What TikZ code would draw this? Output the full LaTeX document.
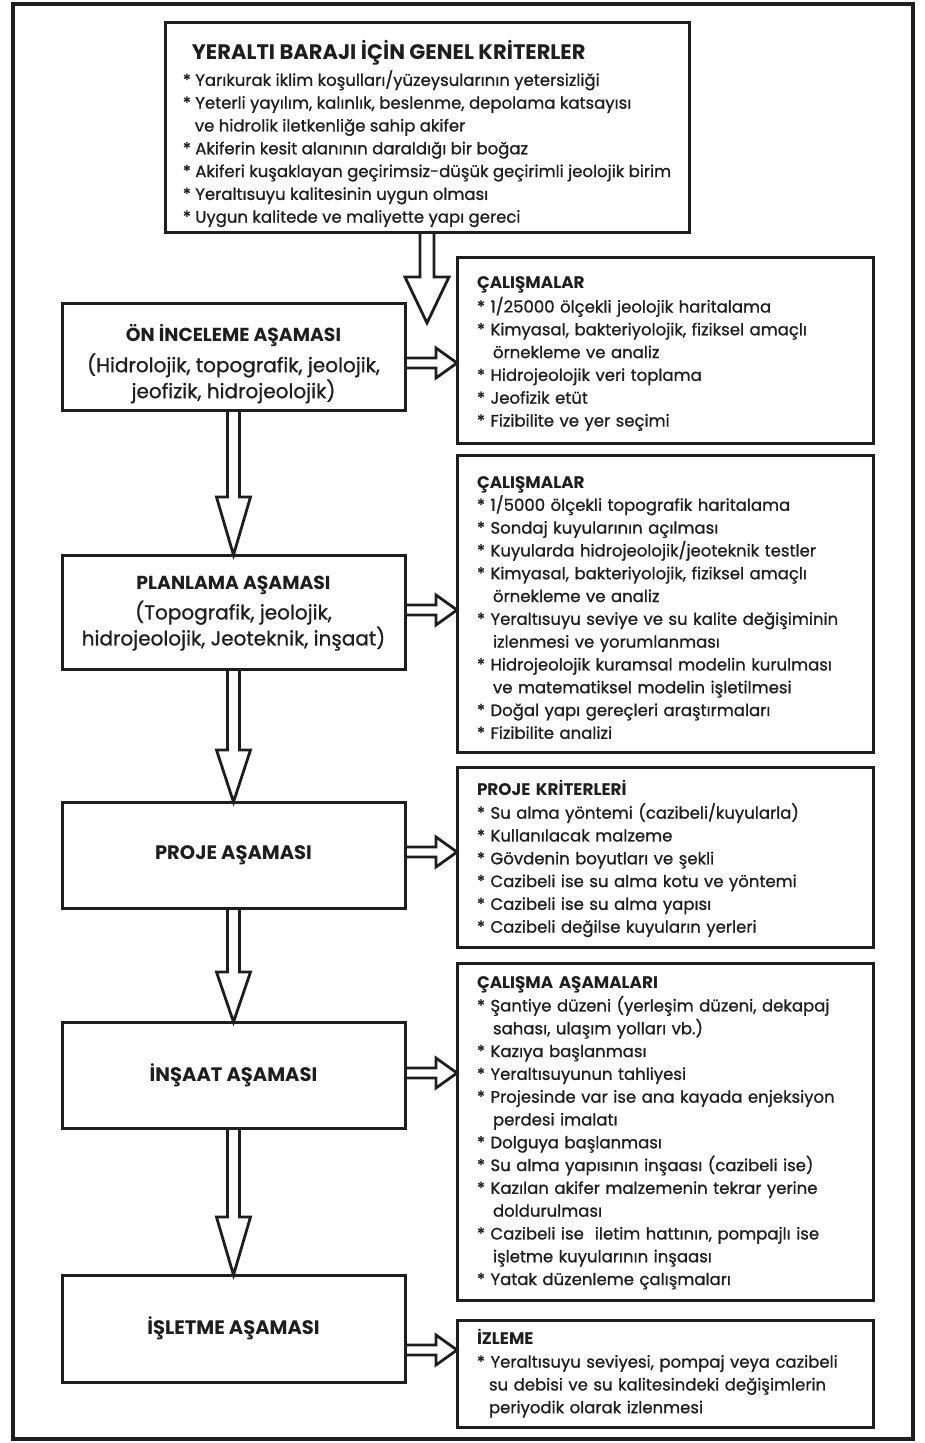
\documentclass[tikz,border=0pt]{standalone}
\usepackage{fontspec}
\setmainfont{Poppins}[UprightFeatures={FakeBold=1.0}]
\usetikzlibrary{calc}
\definecolor{ink}{HTML}{1E1E1E}
\newcommand\body{\fontsize{16.5}{22.8}\selectfont}
\newcommand\ttl{\fontsize{21}{24}\selectfont\bfseries}
\newcommand\ltl{\fontsize{19.5}{26}\selectfont\bfseries}
\newcommand\ltlsm{\fontsize{18.8}{26}\selectfont\bfseries}
\newcommand\lsub{\fontsize{20}{26}\selectfont}
\newcommand\rtl{\fontsize{16.8}{22.8}\selectfont\bfseries}
\newcommand\T[1]{\rule{0pt}{#1pt}}
\newcommand\itm{*\ }
\newcommand\cnt{\hspace*{16pt}}
\newcommand\cns{\hspace*{12pt}}
\tikzset{
  box/.style={draw=ink, line width=3pt, outer sep=0pt, anchor=north west, inner ysep=0pt, text=ink},
  leftbox/.style={box, minimum width=343pt, align=center, font=\lsub},
  rightbox/.style={box, text width=376pt, inner xsep=20pt, align=left, font=\body},
  hollow/.style={draw=ink, line width=2.8pt, line join=miter},
}
% #1 start anchor, #2 target (tip level), #3 shaft half, #4 head half, #5 head length
\newcommand\DownArr[5]{%
  \coordinate (dtip) at (#1 |- #2);
  \draw[hollow] ($(#1)+(-#3,0)$) -- ($(dtip)+(-#3,-#5)$) -- ($(dtip)+(-#4,-#5)$) -- (dtip)
    -- ($(dtip)+(#4,-#5)$) -- ($(dtip)+(#3,-#5)$) -- ($(#1)+(#3,0)$);}
% #1 left node, #2 right node, #3 y
\newcommand\RightArr[3]{%
  \coordinate (rs) at (#1.east |- 0,#3);
  \coordinate (rt) at (#2.west |- 0,#3);
  \draw[hollow] ($(rs)+(0,-5)$) -- ($(rt)+(-21,-5)$) -- ($(rt)+(-21,-15)$) -- (rt)
    -- ($(rt)+(-21,15)$) -- ($(rt)+(-21,5)$) -- ($(rs)+(0,5)$);}
\begin{document}
\begin{tikzpicture}[x=1pt,y=-1pt]
\useasboundingbox (0,0) rectangle (924,1443);
\draw[ink, line width=4pt] (13,4) rectangle (913,1439);

\node[box, minimum width=524pt, minimum height=210pt, align=left, font=\body] (top) at (165,22)
{\hspace*{9pt}{\ttl\T{33}YERALTI BARAJI İÇİN GENEL KRİTERLER}\\[3.2pt]
\itm Yarıkurak iklim koşulları/yüzeysularının yetersizliği\\
\itm Yeterli yayılım, kalınlık, beslenme, depolama katsayısı\\
\cns ve hidrolik iletkenliğe sahip akifer\\
\itm Akiferin kesit alanının daraldığı bir boğaz\\
\itm Akiferi kuşaklayan geçirimsiz-düşük geçirimli jeolojik birim\\
\itm Yeraltısuyu kalitesinin uygun olması\\
\itm Uygun kalitede ve maliyette yapı gereci};

\node[leftbox, minimum height=107pt] (on) at (62,303)
{{\ltlsm\T{31.5}ÖN İNCELEME AŞAMASI}\\[5pt](Hidrolojik, topografik, jeolojik,\\jeofizik, hidrojeolojik)};
\node[leftbox, minimum height=114pt] (plan) at (62,555)
{{\ltlsm\T{16}PLANLAMA AŞAMASI}\\[4pt](Topografik, jeolojik,\\hidrojeolojik, Jeoteknik, inşaat)};
\node[leftbox, minimum height=106pt] (proje) at (62,802) {{\ltl PROJE AŞAMASI}};
\node[leftbox, minimum height=106pt] (insaat) at (62,1022) {{\ltl İNŞAAT AŞAMASI}};
\node[leftbox, minimum height=107pt] (isletme) at (62,1275) {{\ltl İŞLETME AŞAMASI}};

\node[rightbox, minimum height=186pt] (r1) at (457,257)
{{\rtl\T{19}ÇALIŞMALAR}\\[1.5pt]
\itm 1/25000 ölçekli jeolojik haritalama\\
\itm Kimyasal, bakteriyolojik, fiziksel amaçlı\\
\cnt örnekleme ve analiz\\
\itm Hidrojeolojik veri toplama\\
\itm Jeofizik etüt\\
\itm Fizibilite ve yer seçimi};

\node[rightbox, minimum height=297pt] (r2) at (457,455)
{{\rtl\T{20}ÇALIŞMALAR}\\
\itm 1/5000 ölçekli topografik haritalama\\
\itm Sondaj kuyularının açılması\\
\itm Kuyularda hidrojeolojik/jeoteknik testler\\
\itm Kimyasal, bakteriyolojik, fiziksel amaçlı\\
\cnt örnekleme ve analiz\\
\itm Yeraltısuyu seviye ve su kalite değişiminin\\
\cnt izlenmesi ve yorumlanması\\
\itm Hidrojeolojik kuramsal modelin kurulması\\
\cnt ve matematiksel modelin işletilmesi\\
\itm Doğal yapı gereçleri araştırmaları\\
\itm Fizibilite analizi};

\node[rightbox, minimum height=180pt] (r3) at (457,767)
{{\rtl\T{19}PROJE KRİTERLERİ}\\
\itm Su alma yöntemi (cazibeli/kuyularla)\\
\itm Kullanılacak malzeme\\
\itm Gövdenin boyutları ve şekli\\
\itm Cazibeli ise su alma kotu ve yöntemi\\
\itm Cazibeli ise su alma yapısı\\
\itm Cazibeli değilse kuyuların yerleri};

\node[rightbox, minimum height=337pt] (r4) at (457,963)
{{\rtl\T{15}ÇALIŞMA AŞAMALARI}\\
\itm Şantiye düzeni (yerleşim düzeni, dekapaj\\
\cnt sahası, ulaşım yolları vb.)\\
\itm Kazıya başlanması\\
\itm Yeraltısuyunun tahliyesi\\
\itm Projesinde var ise ana kayada enjeksiyon\\
\cnt perdesi imalatı\\
\itm Dolguya başlanması\\
\itm Su alma yapısının inşaası (cazibeli ise)\\
\itm Kazılan akifer malzemenin tekrar yerine\\
\cnt doldurulması\\
\itm Cazibeli ise\ \ iletim hattının, pompajlı ise\\
\cnt işletme kuyularının inşaası\\
\itm Yatak düzenleme çalışmaları};

\node[rightbox, minimum height=107pt] (r5) at (457,1320)
{{\rtl\T{14}İZLEME}\\
\itm Yeraltısuyu seviyesi, pompaj veya cazibeli\\
\cns su debisi ve su kalitesindeki değişimlerin\\
\cns periyodik olarak izlenmesi};

\coordinate (toptip) at (426.5,323);
\DownArr{top.south}{toptip}{7}{22}{46}
\DownArr{on.south}{plan.north}{6}{17}{58}
\DownArr{plan.south}{proje.north}{6}{17}{52}
\DownArr{proje.south}{insaat.north}{6}{17}{50}
\DownArr{insaat.south}{isletme.north}{6}{17}{58}

\RightArr{on}{r1}{363}
\RightArr{plan}{r2}{610}
\RightArr{proje}{r3}{852}
\RightArr{insaat}{r4}{1073}
\RightArr{isletme}{r5}{1350}
\end{tikzpicture}
\end{document}
